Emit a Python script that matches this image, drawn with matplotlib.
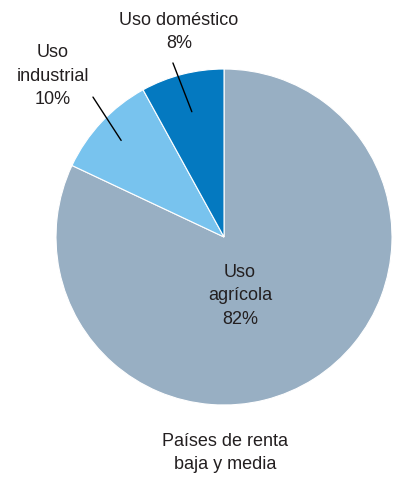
import numpy as np
import matplotlib
matplotlib.use('Agg')
import matplotlib.pyplot as plt

plt.rcParams['font.family'] = ['Liberation Sans', 'DejaVu Sans']

# uso del agua, países de renta baja y media
usos = ['Uso\nagrícola', 'Uso\nindustrial', 'Uso doméstico']
porcentajes = [82, 10, 8]
colores = ['#98AFC3', '#78C3EE', '#0479C0']
txt_color = '#231F20'

fig = plt.figure(figsize=(3.95, 4.78), dpi=100)
ax = fig.add_axes([0.1418, 0.1527, 0.8506, 0.7029])

wedges, _ = ax.pie(porcentajes, colors=colores, startangle=90, counterclock=False,
                   radius=1.0, wedgeprops=dict(edgecolor='white', linewidth=0.8))
ax.set_xlim(-1, 1)
ax.set_ylim(-1, 1)
ax.set_aspect('equal')
ax.axis('off')

def mid(w, r):
    a = np.deg2rad((w.theta1 + w.theta2) / 2)
    return r * np.cos(a), r * np.sin(a)

fs = 13
ls = 1.5

# agrícola, dentro de la porción
ax.text(0.095, -0.351, '%s\n%d%%' % (usos[0], porcentajes[0]), ha='center', va='center',
        fontsize=fs, linespacing=ls, color=txt_color)

# industrial y doméstico, fuera con línea de referencia
ax.text(-1.018, 0.958, '%s\n%d%%' % (usos[1], porcentajes[1]), ha='center', va='center',
        fontsize=fs, linespacing=ls, color=txt_color)
ax.annotate('', xy=mid(wedges[1], 0.84), xytext=(-0.78, 0.833),
            arrowprops=dict(arrowstyle='-', color='black', lw=1.0, shrinkA=0, shrinkB=0))

ax.text(-0.268, 1.22, '%s\n%d%%' % (usos[2], porcentajes[2]), ha='center', va='center',
        fontsize=fs, linespacing=ls, color=txt_color)
ax.annotate('', xy=mid(wedges[2], 0.77), xytext=(-0.304, 1.036),
            arrowprops=dict(arrowstyle='-', color='black', lw=1.0, shrinkA=0, shrinkB=0))

fig.text(225 / 395, 1 - 453 / 478, 'Países de renta\nbaja y media', ha='center', va='center',
         fontsize=fs, linespacing=ls, color=txt_color)

fig.savefig('out.png', dpi=100, facecolor='white')
